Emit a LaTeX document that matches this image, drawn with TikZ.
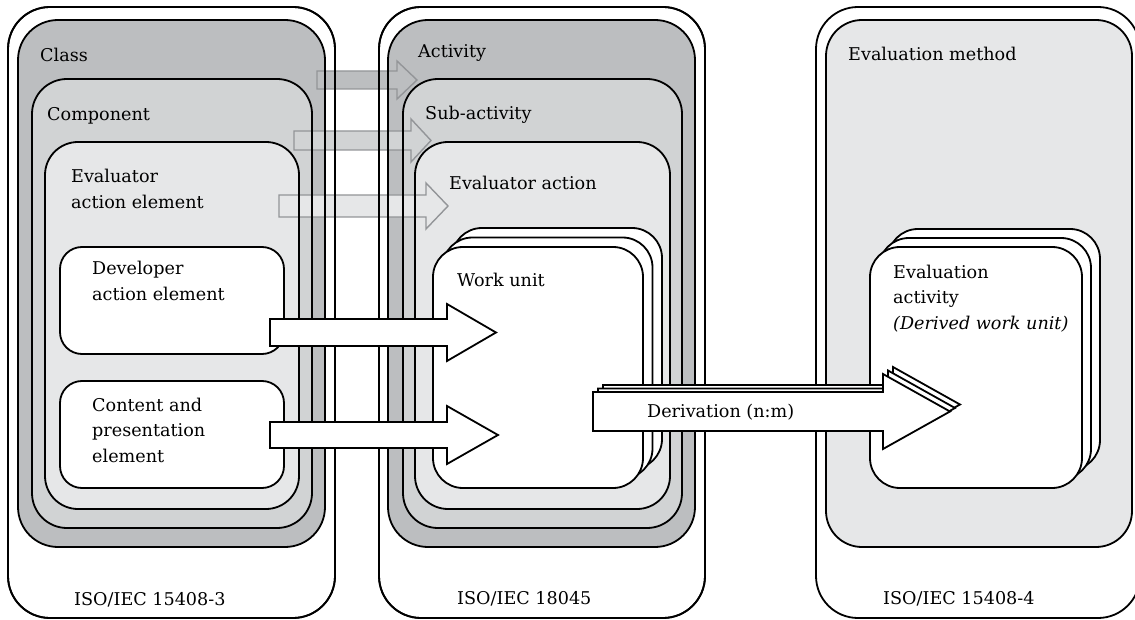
\documentclass[tikz,border=0pt]{standalone}
\usepackage{tikz}
\usepackage{xcolor}
\usepackage{fontspec}
\setmainfont{DejaVu Serif}

\definecolor{greyA}{HTML}{BCBEC0}
\definecolor{greyB}{HTML}{D1D3D4}
\definecolor{greyC}{HTML}{E6E7E8}
\definecolor{greyLine}{HTML}{939598}

\tikzset{
  frame/.style={draw=black, line width=1.8pt},
  garrow/.style={draw=greyLine, line width=1.4pt, line join=miter},
  warrow/.style={draw=black, fill=white, line width=1.8pt, line join=miter},
  stackbox/.style={draw=black, fill=white, line width=1.8pt, rounded corners=30},
  lbl/.style={font=\fontsize{17.6}{25.5}\selectfont, inner sep=0pt, anchor=base west, align=left}
}

% nested boxes: left/top/right/bottom/radius/fill
\def\boxlist{18/20/325/547/40/greyA, 32/79/312/528/35/greyB, 45/142/299/509/33/greyC,
  60/247/284/354/22/white, 60/381/284/488/22/white,
  388/20/695/547/40/greyA, 403/79/682/528/35/greyB, 415/142/670/509/33/greyC,
  826/20/1132/547/36/greyC}

\begin{document}
\begin{tikzpicture}[x=1pt, y=-1pt]
  \useasboundingbox (0,0) rectangle (1135,620);
  \clip (0,0) rectangle (1135,620);

  % Outer frames
  \draw[frame, fill=white, rounded corners=42] (8,7)   rectangle (335,618);
  \draw[frame, fill=white, rounded corners=42] (379,7) rectangle (705,618);
  \draw[frame, fill=white, rounded corners=42] (816,7) rectangle (1140,618);

  % Box fills
  \foreach \xa/\ya/\xb/\yb/\r/\c in \boxlist
    \fill[\c, rounded corners=\r] (\xa,\ya) rectangle (\xb,\yb);

  % Grey arrows
  \draw[garrow, fill=greyA] (317,71)  -- (397,71)  -- (397,61)  -- (417,80)    -- (397,99)  -- (397,89)  -- (317,89)  -- cycle;
  \draw[garrow, fill=greyB] (294,131) -- (411,131) -- (411,119) -- (431,140.5) -- (411,162) -- (411,150) -- (294,150) -- cycle;
  \draw[garrow, fill=greyC] (279,195) -- (426,195) -- (426,183) -- (448,206)   -- (426,229) -- (426,217) -- (279,217) -- cycle;

  % Box borders
  \draw[frame, rounded corners=42] (8,7)   rectangle (335,618);
  \draw[frame, rounded corners=42] (379,7) rectangle (705,618);
  \foreach \xa/\ya/\xb/\yb/\r/\c in \boxlist
    \draw[frame, rounded corners=\r] (\xa,\ya) rectangle (\xb,\yb);

  % Stacks
  \foreach \d in {19,9.5,0}
    \draw[stackbox, shift={(\d,-\d)}] (433,247) rectangle (643,488);
  \foreach \d in {18,9,0}
    \draw[stackbox, shift={(\d,-\d)}] (870,247) rectangle (1082,488);

  % White arrows
  \draw[warrow] (270,319) -- (447,319) -- (447,304) -- (496,332.5) -- (447,361) -- (447,346) -- (270,346) -- cycle;
  \draw[warrow] (270,422) -- (447,422) -- (447,406) -- (498,435)   -- (447,464) -- (447,448) -- (270,448) -- cycle;

  % Derivation arrow
  \foreach \dx/\dy in {10/-7, 5/-3.5, 0/0}
    \draw[warrow, shift={(\dx,\dy)}] (593,392) -- (883,392) -- (883,374) -- (950,411.5) -- (883,449) -- (883,431) -- (593,431) -- cycle;

  % Labels (base = last line)
  \node[lbl] (class)        at (40,62)    {Class};
  \node[lbl] (component)    at (47,121)   {Component};
  \node[lbl] (evalelem)     at (71,208.5) {Evaluator\\action element};
  \node[lbl] (develem)      at (92,300.5) {Developer\\action element};
  \node[lbl] (contelem)     at (92,462)   {Content and\\presentation\\element};
  \node[lbl] (isothree)     at (74,605)   {ISO/IEC 15408-3};
  \node[lbl] (activity)     at (418,58)   {Activity};
  \node[lbl] (subactivity)  at (425,120)  {Sub-activity};
  \node[lbl] (evalaction)   at (449,190)  {Evaluator action};
  \node[lbl] (workunit)     at (457,287)  {Work unit};
  \node[lbl] (isocem)       at (457,604)  {ISO/IEC 18045};
  \node[lbl] (derivation)   at (647,417)  {Derivation (n:m)};
  \node[lbl] (evalmethod)   at (848,61)   {Evaluation method};
  \node[lbl] (evalactivity) at (893,329)  {Evaluation\\activity\\\textit{(Derived work unit)}};
  \node[lbl] (isofour)      at (883,604)  {ISO/IEC 15408-4};
\end{tikzpicture}
\end{document}
